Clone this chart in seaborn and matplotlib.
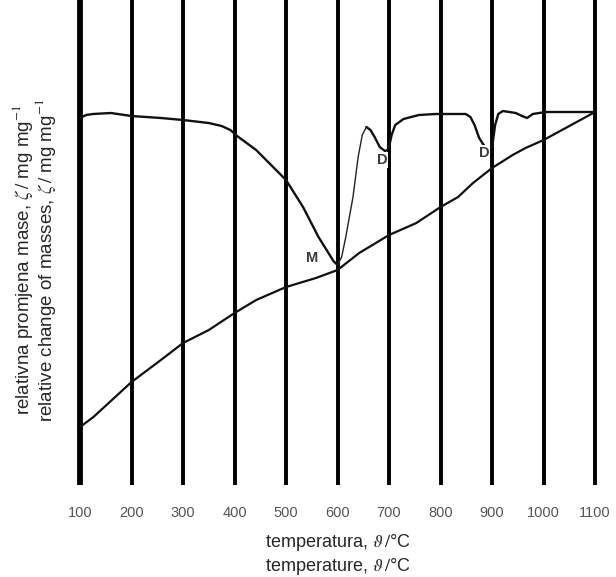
import matplotlib
matplotlib.use("Agg")
import matplotlib.pyplot as plt
import pandas as pd
import seaborn as sns

# temperature grid (vertical lines / tick labels)
grid_temps = [100, 200, 300, 400, 500, 600, 700, 800, 900, 1000, 1100]

# upper curve (arbitrary units)
upper_t = [100, 112, 125, 160, 200, 257, 300, 350, 375, 392, 405, 442, 500,
           533, 563, 580, 592, 600, 608, 616, 630, 640, 648, 656, 664, 672,
           682, 692, 697, 700, 705, 712, 728, 758, 790, 849, 858, 866, 875,
           885, 893, 899, 902, 906, 912, 921, 946, 958, 968, 979, 1004, 1100]
upper_v = [367, 370, 371, 372, 369, 367, 365, 362, 359, 355, 349, 335, 305,
           278, 248, 234, 224, 220, 228, 248, 288, 328, 350, 358, 355, 348,
           338, 334, 335, 338, 350, 360, 366, 370, 371, 371, 368, 360, 347,
           339, 336, 337, 345, 360, 371, 374, 372, 369, 367, 371, 373, 373]

# lower curve
lower_t = [100, 126, 200, 257, 300, 350, 400, 442, 500, 558, 600, 642, 700,
           753, 800, 834, 863, 900, 940, 965, 1000, 1100]
lower_v = [58, 68, 103, 125, 142, 155, 172, 185, 198, 207, 215, 232, 250,
           262, 278, 288, 302, 317, 330, 337, 345, 373]

# point labels: (text, temperature, value)
marks = [("M", 550, 227), ("D", 686, 325), ("D", 884, 332)]

sns.set_style("white")
plt.rcParams["font.family"] = ["Liberation Sans", "DejaVu Sans"]
plt.rcParams["mathtext.fontset"] = "stix"

fig = plt.figure(figsize=(6.16, 5.77), dpi=100)
ax = fig.add_axes([0.1257, 0.1594, 0.8445, 0.8406])

up = pd.DataFrame({"t": upper_t, "v": upper_v})
lo = pd.DataFrame({"t": lower_t, "v": lower_v})

# vertical lines
for i, t in enumerate(grid_temps):
    ax.axvline(t, color="black", lw=4.2 if i == 0 else 2.8, zorder=1)

sns.lineplot(data=up[up["t"] <= 600], x="t", y="v", ax=ax, color="#111111", lw=1.7, zorder=3)
sns.lineplot(data=up[(up["t"] >= 600) & (up["t"] <= 656)], x="t", y="v", ax=ax,
             color="#222222", lw=1.0, zorder=3)
sns.lineplot(data=up[up["t"] >= 656], x="t", y="v", ax=ax, color="#111111", lw=1.7, zorder=3)
sns.lineplot(data=lo, x="t", y="v", ax=ax, color="#111111", lw=1.6, zorder=3)

for txt, t, v in marks:
    ax.text(t, v, txt, fontsize=10.5, fontweight="bold", color="#3a3a3a",
            ha="center", va="center", zorder=4,
            bbox=dict(facecolor="white", edgecolor="none", pad=0.5))

ax.set_xlim(95, 1105)
ax.set_ylim(0, 485)
ax.set_xticks(grid_temps)
ax.set_xticklabels([str(t) for t in grid_temps], fontsize=10.5, color="#555555")
ax.tick_params(axis="x", length=0, pad=15)
ax.set_yticks([])
sns.despine(ax=ax, left=True, bottom=True)

ax.set_xlabel("temperatura, $\\vartheta\\,/$°C\ntemperature, $\\vartheta\\,/$°C",
              fontsize=13, labelpad=9, linespacing=1.15)
ax.set_ylabel("relativna promjena mase, $\\zeta\\,/$ mg mg$^{-1}$\n"
              "relative change of masses, $\\zeta\\,/$ mg mg$^{-1}$",
              fontsize=13.5, linespacing=0.9)
ax.yaxis.set_label_coords(-0.038, 0.464)

fig.savefig("out.png", dpi=100)
